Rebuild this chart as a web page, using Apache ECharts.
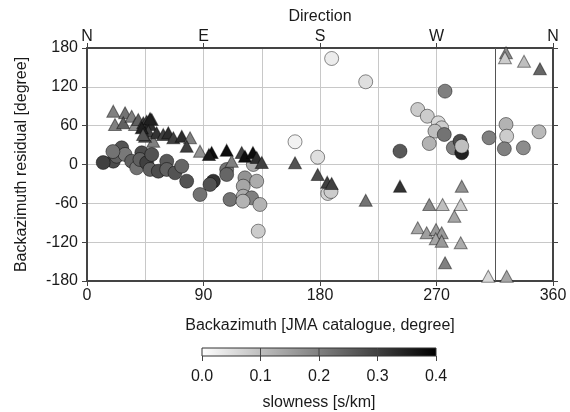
<!DOCTYPE html>
<html><head><meta charset="utf-8">
<script src="https://cdn.jsdelivr.net/npm/echarts@6/dist/echarts.min.js"></script>
<style>html,body{margin:0;padding:0;background:#fff}#c{width:570px;height:412px}</style>
</head><body><div id="c"></div>
<script>
// [backazimuth (deg), residual (deg), slowness (s/km)]
const circles = [
  [20.3,5.1,0.28],[26.8,25.8,0.27],[22.9,12.8,0.25],[29.4,15.5,0.21],[34.5,5.1,0.25],
  [38.4,-5.1,0.22],[42.3,18.1,0.28],[40.9,7.7,0.25],[46.1,2.6,0.30],[50.0,15.5,0.27],
  [48.7,-7.7,0.25],[55.1,-10.4,0.28],[61.6,5.1,0.26],[61.6,-7.7,0.25],[68.0,-12.8,0.27],
  [73.2,-2.6,0.24],[77.0,-25.8,0.27],[87.3,-46.4,0.22],[20.0,20.0,0.22],[12.5,3.0,0.30],
  [97.6,-25.8,0.32],[95.0,-30.9,0.27],[107.9,-7.7,0.22],[107.9,-15.5,0.24],[110.5,-54.0,0.22],
  [122.0,-20.6,0.17],[120.7,-33.5,0.14],[120.7,-49.0,0.13],[128.5,0.0,0.13],[131.1,-25.8,0.13],
  [127.2,-51.5,0.20],[133.6,-61.8,0.12],[132.3,-103.0,0.08],[120.5,-56.7,0.12],
  [189.0,163.8,0.03],[215.3,127.8,0.05],[160.7,35.1,0.02],[178.2,11.3,0.05],[186.0,-44.8,0.07],
  [188.5,-41.7,0.08],[276.6,113.3,0.20],[255.5,85.0,0.08],[262.9,74.6,0.08],[271.4,64.4,0.06],
  [274.0,56.7,0.08],[268.8,51.5,0.10],[276.0,46.4,0.22],[264.4,32.4,0.12],[241.8,20.6,0.26],
  [283.0,25.8,0.20],[288.2,36.0,0.28],[289.5,18.1,0.35],[289.5,28.3,0.10],[310.6,41.3,0.20],
  [323.7,61.8,0.12],[324.2,43.7,0.08],[322.4,24.3,0.20],[337.1,25.8,0.18],[349.2,50.5,0.11]
];
const triangles = [
  [20.3,82.4,0.20],[21.6,61.8,0.20],[29.4,79.9,0.22],[28.0,64.4,0.25],[34.5,74.6,0.20],
  [37.1,61.8,0.18],[39.6,69.5,0.25],[43.5,64.4,0.30],[46.1,66.9,0.30],[48.7,61.8,0.33],
  [50.0,69.5,0.28],[47.4,51.5,0.30],[51.2,36.0,0.20],[53.8,49.0,0.32],[58.9,46.4,0.30],
  [62.8,49.0,0.33],[66.7,41.3,0.30],[73.2,43.7,0.33],[79.6,41.3,0.20],[77.0,28.3,0.30],
  [87.3,20.6,0.17],[44.8,43.7,0.28],[42.3,56.7,0.35],[48.7,71.0,0.35],[43.3,46.4,0.27],
  [96.3,18.5,0.38],[94.2,15.5,0.36],[107.9,22.1,0.38],[119.5,18.5,0.30],[122.0,12.8,0.38],
  [128.2,18.5,0.38],[131.1,10.8,0.33],[111.8,5.1,0.20],[135.0,3.1,0.30],
  [160.7,2.6,0.27],[178.2,-15.5,0.28],[185.6,-27.3,0.30],[189.0,-29.4,0.30],[215.3,-55.2,0.22],
  [241.8,-33.5,0.32],[289.5,-33.5,0.17],[264.4,-61.8,0.18],[274.7,-61.8,0.10],[288.7,-61.8,0.08],
  [283.8,-79.9,0.14],[255.5,-97.8,0.14],[262.4,-105.5,0.15],[269.6,-100.4,0.16],[274.0,-105.5,0.16],
  [269.4,-114.8,0.14],[274.0,-118.5,0.16],[288.7,-121.0,0.13],[276.6,-151.9,0.20],
  [310.0,-172.6,0.06],[324.2,-172.6,0.14],
  [323.7,172.6,0.18],[322.9,164.9,0.08],[337.6,159.6,0.10],[349.9,147.9,0.24]
];
const directionLabels = ['N','E','S','W','N'];
const colorbarTicks = [0,0.1,0.2,0.3,0.4];

const F = 'Liberation Sans, Arial, sans-serif';
const txt = {color:'#1a1a1a', fontFamily:F, fontSize:16};
const chart = echarts.init(document.getElementById('c'), null, {renderer:'canvas'});
chart.setOption({
  animation:false,
  backgroundColor:'#fff',
  grid:[
    {left:87, right:17, top:48, bottom:131},
    {left:202, width:234, top:348, height:9}
  ],
  xAxis:[
    {gridIndex:0, type:'value', min:0, max:360, interval:90, position:'bottom',
     name:'Backazimuth [JMA catalogue, degree]', nameLocation:'middle', nameGap:37, nameTextStyle:txt,
     axisLine:{onZero:false, lineStyle:{color:'#444', width:2}},
     axisTick:{show:true, length:5, lineStyle:{color:'#444'}},
     axisLabel:{...txt, margin:7},
     splitLine:{show:true, lineStyle:{color:'#c8c8c8', width:1}},
     minorTick:{show:false, splitNumber:2},
     minorSplitLine:{show:true, lineStyle:{color:'#c8c8c8', width:1}}},
    {gridIndex:0, type:'value', min:0, max:360, interval:90, position:'top',
     name:'Direction', nameLocation:'middle', nameGap:22, nameTextStyle:txt,
     axisLine:{onZero:false, lineStyle:{color:'#444', width:2}},
     axisTick:{show:true, length:5, lineStyle:{color:'#444'}},
     axisLabel:{...txt, margin:3, formatter:v=>directionLabels[Math.round(v/90)]},
     splitLine:{show:false}},
    {gridIndex:1, type:'value', min:0, max:0.4, interval:0.1, position:'bottom',
     name:'slowness [s/km]', nameLocation:'middle', nameGap:39, nameTextStyle:txt,
     axisLine:{show:false},
     axisTick:{show:true, length:5, lineStyle:{color:'#444'}},
     axisLabel:{...txt, margin:13, formatter:v=>v.toFixed(1)},
     splitLine:{show:false}}
  ],
  yAxis:[
    {gridIndex:0, type:'value', min:-180, max:180, interval:60, position:'left',
     name:'Backazimuth residual [degree]', nameLocation:'middle', nameGap:57, nameTextStyle:txt,
     axisLine:{onZero:false, lineStyle:{color:'#444', width:2}},
     axisTick:{show:true, length:5, lineStyle:{color:'#444'}},
     axisLabel:{...txt, margin:9},
     splitLine:{show:true, lineStyle:{color:'#c8c8c8', width:1}}},
    {gridIndex:0, type:'value', min:-180, max:180, interval:60, position:'right',
     axisLine:{onZero:false, lineStyle:{color:'#444', width:2}},
     axisTick:{show:true, length:5, lineStyle:{color:'#444'}},
     axisLabel:{show:false}, splitLine:{show:false}},
    {gridIndex:1, type:'value', min:0, max:1, show:false}
  ],
  visualMap:[{type:'continuous', show:false, min:0, max:0.4, dimension:2, seriesIndex:[0,1],
    inRange:{color:['#ffffff','#000000']}}],
  series:[
    {type:'scatter', xAxisIndex:0, yAxisIndex:0, data:circles, symbol:'circle', symbolSize:14,
     itemStyle:{borderColor:'rgba(0,0,0,0.45)', borderWidth:1, opacity:1},
     markLine:{silent:true, symbol:'none', label:{show:false},
       lineStyle:{color:'#555', width:1, type:'solid'}, data:[{xAxis:315}]}},
    {type:'scatter', xAxisIndex:0, yAxisIndex:0, data:triangles, symbol:'triangle', symbolSize:[13,12],
     itemStyle:{borderColor:'rgba(0,0,0,0.45)', borderWidth:1, opacity:1}},
    {type:'custom', xAxisIndex:2, yAxisIndex:2, data:[[0,0.4]], silent:true,
     renderItem:function(params, api){
       const p0 = api.coord([0,0]), p1 = api.coord([0.4,1]);
       const children = [{type:'rect', shape:{x:p0[0], y:p1[1], width:p1[0]-p0[0], height:p0[1]-p1[1]},
         style:{fill:new echarts.graphic.LinearGradient(0,0,1,0,[{offset:0,color:'#ffffff'},{offset:1,color:'#000000'}]),
                stroke:'#333', lineWidth:1}}];
       colorbarTicks.slice(1,-1).forEach(t=>{
         const a = api.coord([t,0]), b = api.coord([t,1]);
         children.push({type:'line', shape:{x1:a[0], y1:a[1], x2:b[0], y2:b[1]}, style:{stroke:'#444', lineWidth:1}});
       });
       return {type:'group', children};
     }}
  ]
});
</script></body></html>
